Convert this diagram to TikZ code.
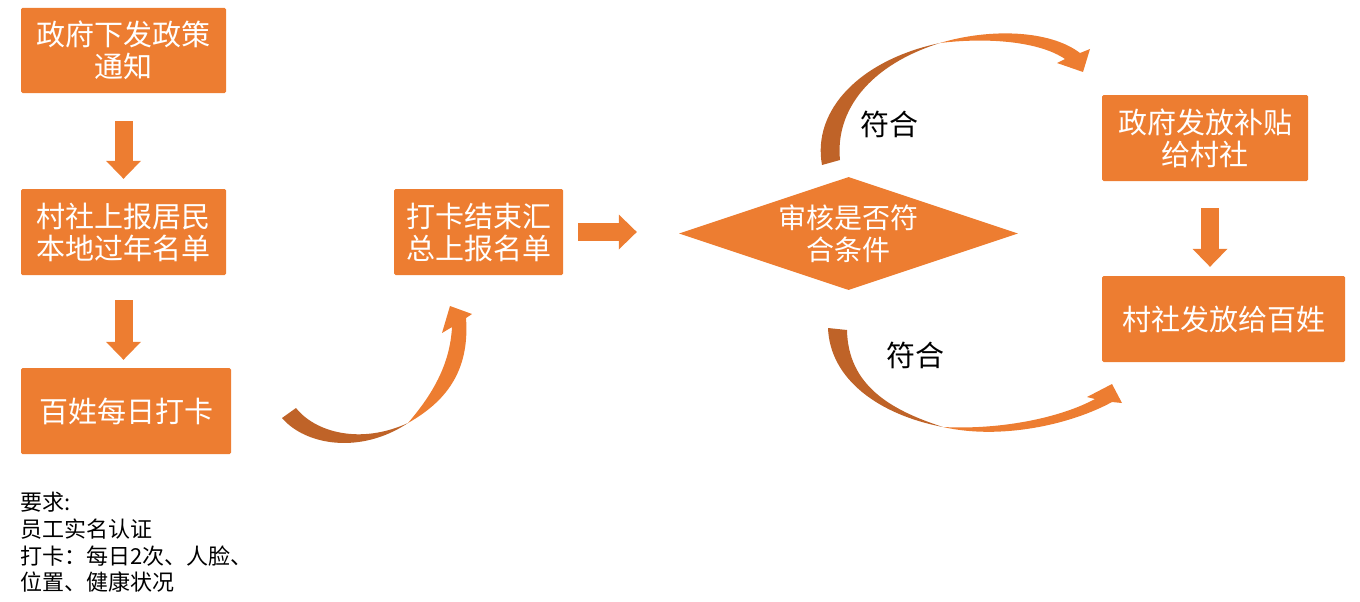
\documentclass[tikz,border=0pt]{standalone}
\usepackage{fontspec}
\newfontfamily\cjk{Noto Sans CJK SC}
\usepackage{xcolor}
\usepackage{tikz}
\usetikzlibrary{shapes.geometric,arrows.meta}

\definecolor{boxorange}{HTML}{ED7D31}
\definecolor{ribbondark}{HTML}{BF6328}

\tikzset{
	stepnode/.style={fill=boxorange,text=white,rounded corners=1.5pt,inner sep=0pt,align=center,font=\cjk\fontsize{29}{32}\selectfont},
	blockarrow/.style={draw=boxorange,line width=18pt,-{Triangle[width=35pt,length=18pt,line width=0pt]}},
	fitlabel/.style={font=\cjk\fontsize{29}{32}\selectfont,inner sep=0pt},
}

\begin{document}
\begin{tikzpicture}[x=1pt,y=-1pt]
		\useasboundingbox (0,0) rectangle (1360,602);
		
		\node[stepnode,minimum width=205pt,minimum height=85pt] (notice) at (123.5,50.5) {政府下发政策\\通知};
		\node[stepnode,minimum width=205pt,minimum height=86pt] (report) at (123.5,232) {村社上报居民\\本地过年名单};
		\node[stepnode,minimum width=210pt,minimum height=86pt] (clockin) at (126,411) {百姓每日打卡};
		\node[stepnode,minimum width=169pt,minimum height=86pt] (summary) at (478.5,232) {打卡结束汇\\总上报名单};
		\node[stepnode,shape=diamond,rounded corners=0pt,shape aspect=3,minimum width=339pt,minimum height=113pt,font=\cjk\fontsize{28}{32}\selectfont] (check) at (848.5,233.5) {审核是否符\\合条件};
		\node[stepnode,minimum width=206pt,minimum height=86pt] (subsidy) at (1205,138) {政府发放补贴\\给村社};
		\node[stepnode,minimum width=243pt,minimum height=86pt] (payout) at (1223.5,319) {村社发放给百姓};
		
		\draw[blockarrow,shorten <=28pt,shorten >=10pt] (notice.south) -- (report.north);
		\draw[blockarrow,shorten <=25pt,shorten >=8pt] (report.south) -- (report.south |- clockin.north);
		\draw[blockarrow,shorten <=15pt,shorten >=42pt] (summary.east) -- (summary.east -| check.west);
		\draw[blockarrow,shorten <=27pt,shorten >=9pt] ([xshift=5pt]subsidy.south) -- ([xshift=5pt]subsidy.south |- payout.north);
		
		\fill[ribbondark] (282,418) .. controls (305,445) and (360,455) .. (408,423) .. controls (360,445) and (315,432) .. (296,408) -- cycle;
		\fill[boxorange] (408,423) .. controls (445,402) and (470,372) .. (466,318) -- (472,314) -- (450,306) -- (442,333) -- (452,327) .. controls (450,365) and (432,395) .. (408,423) -- cycle;
		
		\fill[ribbondark] (822,165) .. controls (812,110) and (860,60) .. (940,43) .. controls (870,65) and (835,110) .. (840,160) -- cycle;
		\fill[boxorange] (940,43) .. controls (990,28) and (1050,30) .. (1080,53) -- (1090,49) -- (1083,72) -- (1057,63) -- (1065,59) .. controls (1040,42) and (990,37) .. (940,43) -- cycle;
		
		\fill[ribbondark] (828,328) .. controls (830,380) and (880,415) .. (943,427) .. controls (890,410) and (848,385) .. (847,330) -- cycle;
		\fill[boxorange] (943,427) .. controls (1000,440) and (1070,425) .. (1112,402) -- (1122,403) -- (1112,384) -- (1087,397) -- (1095,399) .. controls (1060,418) and (1000,430) .. (943,427) -- cycle;
		
		\node[fitlabel] (fitup) at (889,124) {符合};
		\node[fitlabel] (fitdown) at (915,355) {符合};
		
		\node[font=\cjk\fontsize{22}{26.7}\selectfont,align=left,anchor=north west,inner sep=0pt] (demand) at (20,492) {要求:\\员工实名认证\\打卡：每日2次、人脸、\\位置、健康状况};
\end{tikzpicture}
\end{document}
